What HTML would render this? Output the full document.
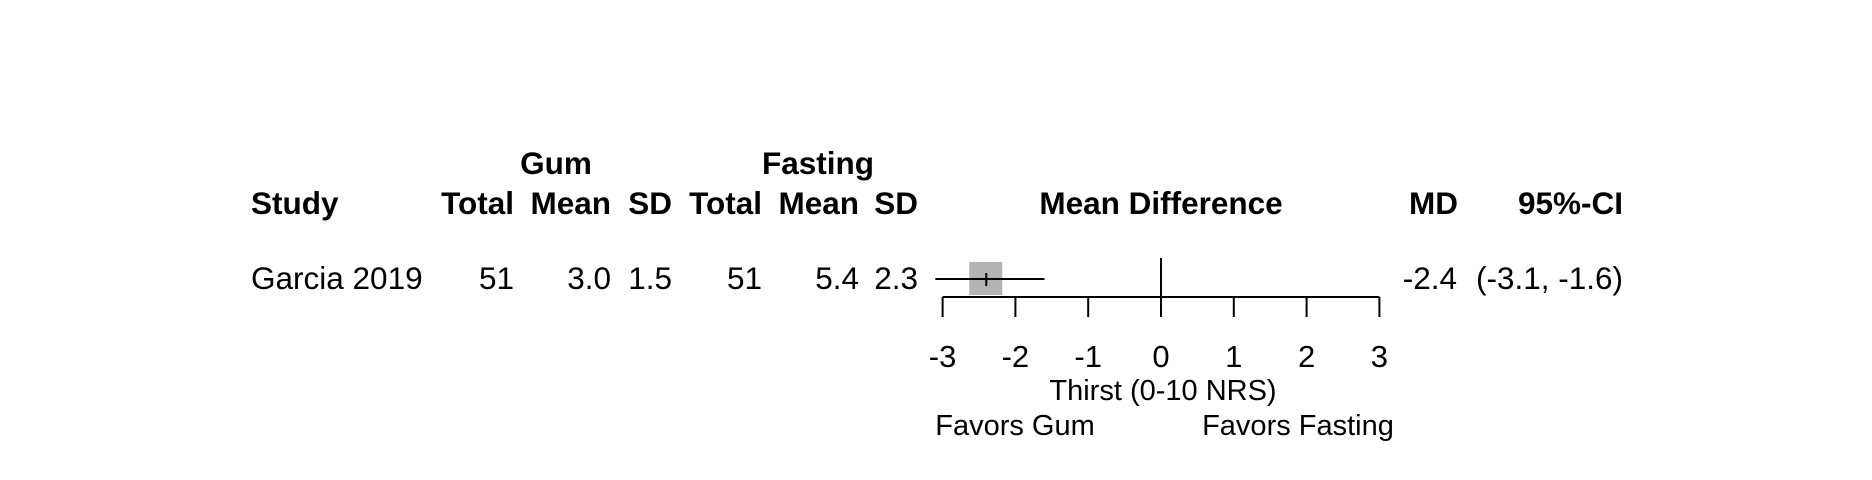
<!DOCTYPE html>
<html><head><meta charset="utf-8"><style>
html,body{margin:0;padding:0;background:#fff;}
svg{display:block;font-family:"Liberation Sans",Arial,sans-serif;}
</style></head><body>
<svg id="plot" width="1872" height="480" viewBox="0 0 1872 480">
<g font-size="31.5" font-weight="bold">
<text x="556" y="174" text-anchor="middle">Gum</text>
<text x="818" y="174" text-anchor="middle">Fasting</text>
<text x="251" y="214">Study</text>
<text x="514" y="214" text-anchor="end">Total</text>
<text x="611" y="214" text-anchor="end">Mean</text>
<text x="672" y="214" text-anchor="end">SD</text>
<text x="762" y="214" text-anchor="end">Total</text>
<text x="859" y="214" text-anchor="end">Mean</text>
<text x="918" y="214" text-anchor="end">SD</text>
<text x="1161" y="214" text-anchor="middle">Mean Difference</text>
<text x="1458" y="214" text-anchor="end">MD</text>
<text x="1623" y="214" text-anchor="end">95%-CI</text>
</g>
<g font-size="31.5">
<text x="251" y="289">Garcia 2019</text>
<text x="514" y="289" text-anchor="end">51</text>
<text x="611" y="289" text-anchor="end">3.0</text>
<text x="672" y="289" text-anchor="end">1.5</text>
<text x="762" y="289" text-anchor="end">51</text>
<text x="859" y="289" text-anchor="end">5.4</text>
<text x="918" y="289" text-anchor="end">2.3</text>
<text x="1457" y="289" text-anchor="end">-2.4</text>
<text x="1623" y="289" text-anchor="end">(-3.1, -1.6)</text>
</g>
<g id="axisg"></g>
<g id="marks"></g>
<text x="1163" y="400" font-size="29" text-anchor="middle">Thirst (0-10 NRS)</text>
<text x="1015" y="435" font-size="29" text-anchor="middle">Favors Gum</text>
<text x="1298" y="435" font-size="29" text-anchor="middle">Favors Fasting</text>
</svg>
<script>
const ticks = [-3,-2,-1,0,1,2,3];
const md = [-2.4];
const lower = [-3.1];
const upper = [-1.6];
const NS = "http://www.w3.org/2000/svg";
function xs(v){ return 1161 + v*72.8; }
function mk(tag, attrs, parent){
  const e = document.createElementNS(NS, tag);
  for (const k in attrs) e.setAttribute(k, attrs[k]);
  parent.appendChild(e); return e;
}
const ax = document.getElementById('axisg');
const mg = document.getElementById('marks');
let l = mk('line',{x1:xs(ticks[0]),x2:xs(ticks[ticks.length-1]),y1:297,y2:297,stroke:'#000','stroke-width':2},ax);


ticks.forEach(t=>{
  const tl = mk('line',{x1:xs(t),x2:xs(t),y1:297,y2:317,stroke:'#000','stroke-width':2},ax);
  
  
  const tx = mk('text',{x:xs(t),y:367,'font-size':31,'text-anchor':'middle'},ax);
  tx.textContent = String(t);
  
  
});
const z = mk('line',{x1:xs(0),x2:xs(0),y1:258,y2:297,stroke:'#000','stroke-width':2},ax);


md.forEach((m,i)=>{
  const b = mk('rect',{x:xs(m)-17,y:262,width:33,height:33,fill:'#b3b3b3'},mg);
  
  
  const c = mk('line',{x1:xs(lower[i]),x2:xs(upper[i]),y1:279,y2:279,stroke:'#000','stroke-width':2},mg);
  
  
  const p = mk('line',{x1:xs(m),x2:xs(m),y1:273,y2:286,stroke:'#000','stroke-width':2},mg);
  
  
});
</script>
</body></html>
